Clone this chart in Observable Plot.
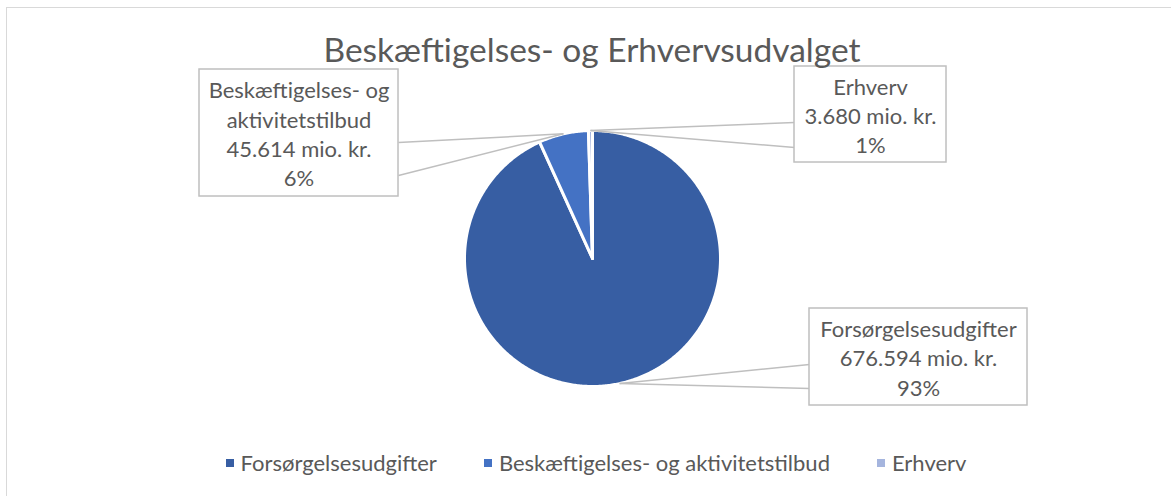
<!DOCTYPE html>
<html><head><meta charset="utf-8">
<script src="https://cdn.jsdelivr.net/npm/d3@7"></script>
<script src="https://cdn.jsdelivr.net/npm/@observablehq/plot@0.6"></script>
<style>
html,body{margin:0;padding:0;background:#fff;overflow:hidden}
#wrap{position:relative;width:1171px;height:496px;overflow:hidden;font-family:Lato,"Open Sans",sans-serif}
#frame{position:absolute;left:6px;top:7px;width:1200px;height:520px;border:1.5px solid #D9D9D9;box-sizing:border-box}
#chart{position:absolute;left:0;top:0}
#title{position:absolute;left:0;width:1184px;top:29px;text-align:center;font-size:33.5px;color:#595959;line-height:40px;white-space:nowrap}
#legend{position:absolute;left:0;width:1192px;top:446px;display:flex;justify-content:center}
#legend .lg-swatches{font-size:22px !important;font-family:Lato,sans-serif !important;color:#595959 !important;margin:0 !important}
#legend .lg-swatch{margin-right:47px !important;font-size:22px !important}
#legend .lg-swatch:last-child{margin-right:0 !important}
#legend .lg-swatch > svg{margin-right:7px !important}
</style></head><body>
<div id="wrap"><div id="frame"></div><div id="chart"></div><div id="title"></div><div id="legend"></div></div>
<script>
// ---- data ----
const categories = ["Forsørgelsesudgifter", "Beskæftigelses- og aktivitetstilbud", "Erhverv"];
const labelNames = ["Forsørgelsesudgifter", "Beskæftigelses- og\naktivitetstilbud", "Erhverv"];
const values = [676594, 45614, 3680];
const colors = ["#375EA3", "#4472C4", "#A5B5DE"];
const titleText = "Beskæftigelses- og Erhvervsudvalget";
const unitText = "mio. kr.";

// ---- layout (pixels) ----
const W = 1171, H = 496, cx = 592, cy = 258, R = 128;
const boxes = [
  {l: 809, t: 308, r: 1027, b: 405, side: 809, ya: 364, yb: 388},
  {l: 199, t: 69, r: 398, b: 196, side: 398, ya: 142, yb: 175},
  {l: 794, t: 66, r: 946, b: 162, side: 794, ya: 122, yb: 147}
];
const ux = px => (px - cx) / R;
const uy = py => (cy - py) / R;

const da = d3.formatLocale({decimal: ",", thousands: ".", grouping: [3], currency: ["", ""]});
const fmt = da.format(",d");
const total = d3.sum(values);

const arcs = d3.pie().sort(null).value(d => d)(values);
const slices = arcs.map(a => {
  const pts = [{x: 0, y: 0}];
  const n = Math.max(2, Math.ceil((a.endAngle - a.startAngle) / 0.01));
  for (let k = 0; k <= n; k++) {
    const t = a.startAngle + (a.endAngle - a.startAngle) * k / n;
    pts.push({x: Math.sin(t), y: Math.cos(t)});
  }
  pts.push({x: 0, y: 0});
  return pts;
});

const leaders = [];
const boxData = [];
arcs.forEach((a, i) => {
  const m = (a.startAngle + a.endAngle) / 2;
  const ax = Math.sin(m), ay = Math.cos(m);
  const b = boxes[i];
  leaders.push({x1: ax, y1: ay, x2: ux(b.side), y2: uy(b.ya)});
  leaders.push({x1: ax, y1: ay, x2: ux(b.side), y2: uy(b.yb)});
  boxData.push({
    x1: ux(b.l), x2: ux(b.r), y1: uy(b.t), y2: uy(b.b),
    cx: ux((b.l + b.r) / 2), cy: uy((b.t + b.b) / 2),
    label: `${labelNames[i]}\n${fmt(values[i])} ${unitText}\n${Math.round(values[i] / total * 100)}%`
  });
});

const marks = [];
slices.forEach((pts, i) => marks.push(Plot.line(pts, {x: "x", y: "y", fill: colors[i], stroke: "white", strokeWidth: 3, strokeLinejoin: "round", curve: "linear"})));
marks.push(Plot.link(leaders, {x1: "x1", y1: "y1", x2: "x2", y2: "y2", stroke: "#BFBFBF", strokeWidth: 1.5}));
marks.push(Plot.rect(boxData, {x1: "x1", x2: "x2", y1: "y1", y2: "y2", fill: "white", stroke: "#BFBFBF", strokeWidth: 1.5}));
marks.push(Plot.text(boxData, {x: "cx", y: "cy", text: "label", fontSize: 22, lineHeight: 1.33, fill: "#595959", fontFamily: "Lato", lineAnchor: "middle"}));

const chart = Plot.plot({
  width: W, height: H, margin: 0,
  style: {background: "transparent", overflow: "visible"},
  x: {domain: [-1, 1], range: [cx - R, cx + R], axis: null},
  y: {domain: [-1, 1], range: [cy + R, cy - R], axis: null},
  marks
});
document.getElementById("chart").appendChild(chart);
document.getElementById("title").textContent = titleText;

const leg = Plot.legend({
  color: {type: "ordinal", domain: categories, range: colors},
  legend: "swatches", swatchSize: 8, className: "lg",
  style: {fontSize: "22px", fontFamily: "Lato, sans-serif", color: "#595959"}
});
document.getElementById("legend").appendChild(leg);
</script>
</body></html>
